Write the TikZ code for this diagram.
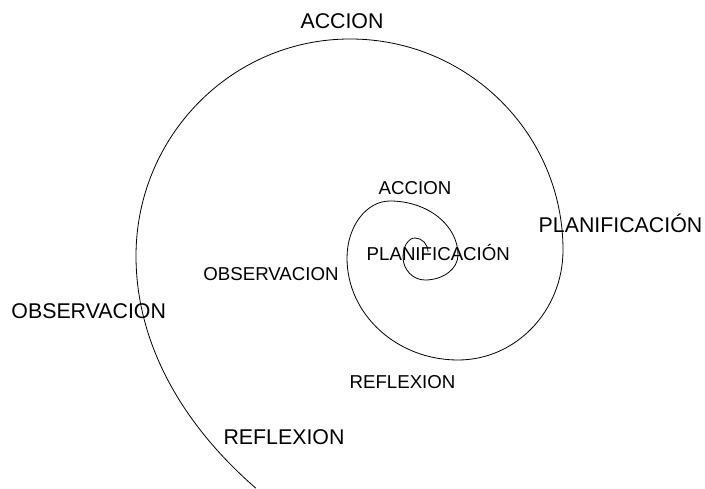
\documentclass[tikz,border=0pt]{standalone}
\usepackage{fontspec}
\setmainfont{Liberation Sans}
\begin{document}
\begin{tikzpicture}[x=0.75pt,y=0.75pt]
            \tikzset{
                lblbig/.style={anchor=base, inner sep=0pt, font=\fontsize{16}{19}\selectfont},
                lblsmall/.style={anchor=base, inner sep=0pt, font=\fontsize{14}{17}\selectfont},
                spiral/.style={line width=0.6pt}
            }
            \useasboundingbox (0,0) rectangle (705,488);

            \draw[spiral] (428,236) \foreach \a/\rx/\ry in {%
                0/13/14, 90/12/19, 180/22/23, 270/33/25, 0/68/54, 90/43/57, 180/111/102, 270/105/110, 0/213/211, 90/214/217%
            }{
            arc[start angle=\a, end angle=\a+90, x radius=\rx, y radius=\ry]
            } arc[start angle=180, end angle=215.5, x radius=645, y radius=400];

            \draw node[lblbig] (acc2) at (342,459.7) {ACCION};
            \draw node[lblbig] (pla2) at (620.5,255) {PLANIFICACIÓN};
            \draw node[lblbig] (obs2) at (88.7,169.7) {OBSERVACION};
            \draw node[lblbig] (ref2) at (284,43) {REFLEXION};
            \draw node[lblsmall] (acc1) at (415,293) {ACCION};
            \draw node[lblsmall] (pla1) at (438.3,227.3) {PLANIFICACIÓN};
            \draw node[lblsmall] (obs1) at (271,207) {OBSERVACION};
            \draw node[lblsmall] (ref1) at (402.5,99.7) {REFLEXION};
        \end{tikzpicture}
\end{document}
